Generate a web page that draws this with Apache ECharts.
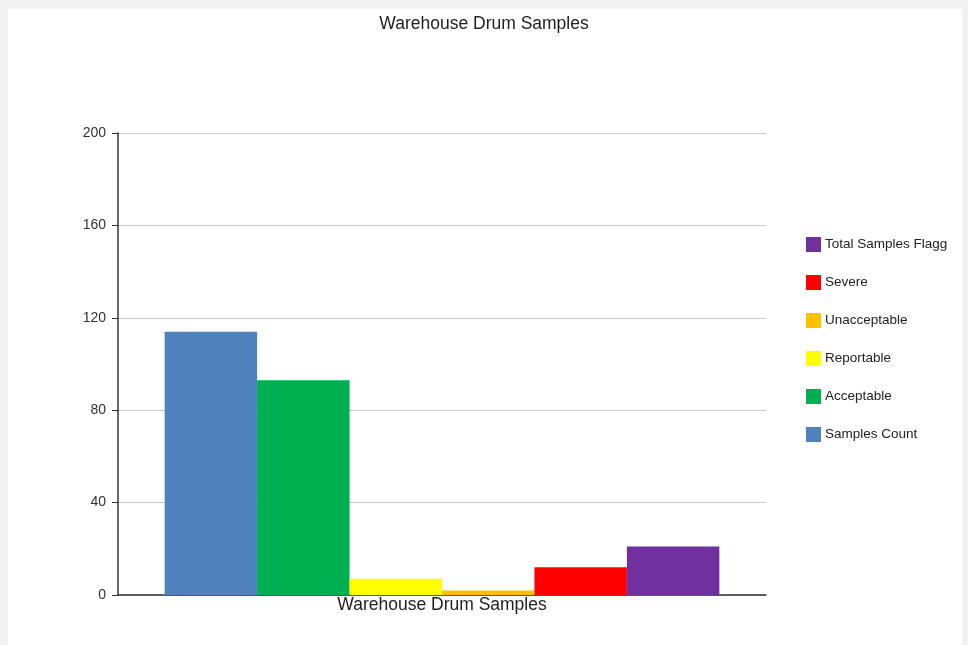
<!DOCTYPE html>
<html>
<head>
<meta charset="utf-8">
<script src="https://cdn.jsdelivr.net/npm/echarts@6/dist/echarts.min.js"></script>
<style>
  html, body { margin: 0; padding: 0; background: #f2f2f2; }
  #frame { position: absolute; left: 8px; top: 9px; width: 954px; height: 636px; background: #fff; }
  #chart { position: absolute; left: -8px; top: -9px; width: 968px; height: 645px; }
</style>
</head>
<body>
<div id="frame"><div id="chart"></div></div>
<script>
const categories = ['Warehouse Drum Samples'];
const seriesNames = ['Samples Count', 'Acceptable', 'Reportable', 'Unacceptable', 'Severe', 'Total Samples Flagged'];
const seriesValues = [114, 93, 7, 2, 12, 21];
const seriesColors = ['#4f81bd', '#00b050', '#ffff00', '#ffc000', '#ff0000', '#7030a0'];
const yTicks = [0, 40, 80, 120, 160, 200];

const FONT = 'Liberation Sans, Arial, sans-serif';
const chart = echarts.init(document.getElementById('chart'));

chart.setOption({
  animation: false,
  textStyle: { fontFamily: FONT },
  title: {
    text: 'Warehouse Drum Samples',
    left: 'center',
    top: 10,
    textStyle: { fontSize: 17.5, fontWeight: 'normal', color: '#222', fontFamily: FONT },
  },
  legend: {
    orient: 'vertical',
    left: 801,
    top: 232,
    itemWidth: 15,
    itemHeight: 15,
    itemGap: 23,
    icon: 'rect',
    data: seriesNames.slice().reverse(),
    textStyle: { fontSize: 13.5, color: '#222', width: 124, overflow: 'truncate', ellipsis: '', padding: [0, 0, 0, -1] },
  },
  grid: { left: 118, right: 202, top: 133, bottom: 50, containLabel: false },
  xAxis: {
    type: 'category',
    data: categories,
    axisLine: { lineStyle: { color: '#333', width: 1.5 } },
    axisTick: { show: false },
    axisLabel: { fontSize: 17.5, color: '#222', margin: 1 },
  },
  yAxis: {
    type: 'value',
    min: yTicks[0],
    max: yTicks[yTicks.length - 1],
    interval: 40,
    axisLine: { show: true, lineStyle: { color: '#333', width: 1.5 } },
    axisTick: { show: true, length: 6, lineStyle: { color: '#333' } },
    axisLabel: { fontSize: 14, color: '#333', margin: 12 },
    splitLine: { lineStyle: { color: '#c8c8c8' } },
  },
  series: seriesNames.map((name, i) => ({
    name,
    type: 'bar',
    data: [seriesValues[i]],
    barGap: '0%',
    barCategoryGap: '14.4%',
    itemStyle: { color: seriesColors[i] },
  })),
});
</script>
</body>
</html>
